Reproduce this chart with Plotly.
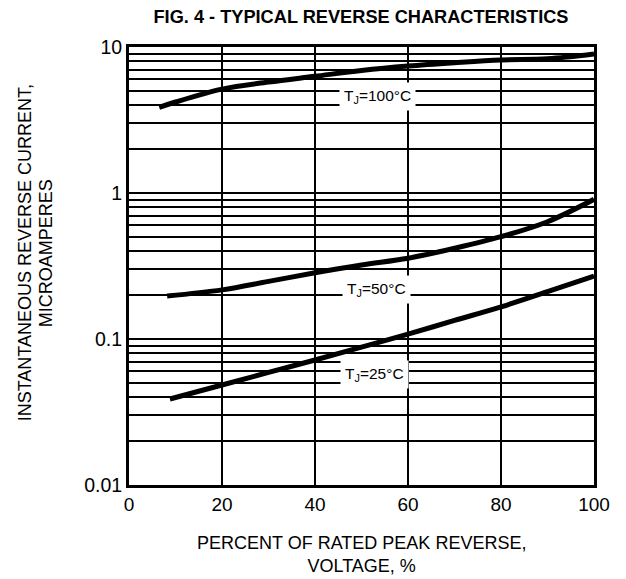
import math
import plotly.graph_objects as go

# ---- data ----
x_100 = [6.5, 10, 20, 30, 40, 50, 60, 70, 80, 90, 100]
y_100 = [3.86, 4.2, 5.15, 5.75, 6.3, 6.9, 7.4, 7.8, 8.15, 8.3, 8.95]

x_50 = [8.2, 20, 30, 40, 50, 60, 70, 80, 90, 100]
y_50 = [0.197, 0.217, 0.248, 0.284, 0.321, 0.357, 0.418, 0.502, 0.636, 0.905]

x_25 = [8.8, 20, 30, 40, 50, 60, 70, 80, 90, 100]
y_25 = [0.0388, 0.0484, 0.059, 0.0718, 0.088, 0.108, 0.134, 0.166, 0.211, 0.27]

curve_labels = ["T<sub>J</sub>=100°C", "T<sub>J</sub>=50°C", "T<sub>J</sub>=25°C"]
label_x = [53.5, 53.3, 52.9]
label_y = [4.57, 0.217, 0.0567]

x_ticks = [0, 20, 40, 60, 80, 100]
y_ticks = [0.01, 0.1, 1, 10]
y_ticktext = ["0.01", "0.1", "1", "10"]
y_minor = [m * d for d in (0.01, 0.1, 1) for m in range(2, 10)]

y_title_lines = ["INSTANTANEOUS REVERSE CURRENT,", "MICROAMPERES"]

FONT = "Liberation Sans, Arial, sans-serif"

fig = go.Figure()
for xs, ys, name in [(x_100, y_100, "100"), (x_50, y_50, "50"), (x_25, y_25, "25")]:
    fig.add_trace(go.Scatter(x=xs, y=ys, mode="lines", name=name,
                             line=dict(color="black", width=5, shape="spline"),
                             showlegend=False, hoverinfo="skip"))

for t, lx, ly in zip(curve_labels, label_x, label_y):
    fig.add_annotation(x=lx, y=math.log10(ly), xref="x", yref="y", text=t, showarrow=False,
                       font=dict(family=FONT, size=15.5, color="black"),
                       bgcolor="white", borderpad=4, xanchor="center", yanchor="middle")

for txt, px in zip(y_title_lines, [-0.2247, -0.1796]):
    fig.add_annotation(xref="paper", yref="paper", x=px, y=0.53,
                       text=txt, textangle=-90, showarrow=False,
                       xanchor="center", yanchor="middle",
                       font=dict(family=FONT, size=18, color="black"))
fig.add_annotation(xref="paper", yref="paper", x=0.5, y=-0.158,
                   text="PERCENT OF RATED PEAK REVERSE,<br>VOLTAGE, %",
                   showarrow=False, xanchor="center", yanchor="middle",
                   font=dict(family=FONT, size=18, color="black"))

W, H = 618, 571
fig.update_layout(
    width=W, height=H,
    margin=dict(l=121, r=32, t=39, b=94),
    paper_bgcolor="white", plot_bgcolor="white",
    font=dict(family=FONT, color="black"),
    title=dict(text="<b>FIG. 4 - TYPICAL REVERSE CHARACTERISTICS</b>",
               x=353 / W, xanchor="center", y=1 - 9 / H, yanchor="middle",
               yref="container", font=dict(family=FONT, size=18.2, color="black")),
)
fig.update_xaxes(range=[0, 100], tickvals=x_ticks, showgrid=True, gridcolor="black",
                 gridwidth=2, showline=True, mirror=True, linecolor="black", linewidth=3,
                 ticks="", zeroline=False, tickfont=dict(family=FONT, size=19, color="black"))
fig.update_yaxes(type="log", range=[-2, 1], tickvals=y_ticks, ticktext=y_ticktext,
                 showgrid=True, gridcolor="black", gridwidth=2,
                 minor=dict(tickvals=y_minor, showgrid=True, gridcolor="black", gridwidth=2, ticks=""),
                 showline=True, mirror=True, linecolor="black", linewidth=3,
                 ticks="", zeroline=False, tickfont=dict(family=FONT, size=19.5, color="black"))

fig.write_html("out.html")
